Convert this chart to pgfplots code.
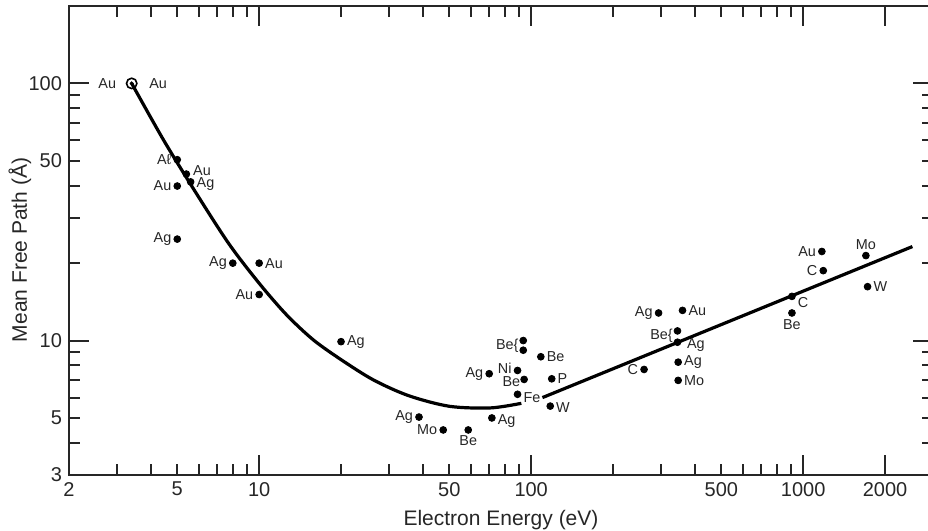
\documentclass[border=0pt]{standalone}
\usepackage{pgfplots}
\pgfplotsset{compat=1.18}
\usepackage{pgfplotstable}
\usepackage{fontspec}
\setmainfont{Liberation Sans}

% measured points: energy (eV), mean free path (A)
\pgfplotstableread{
x y
5.0 50.5
5.4 44.4
5.6 41.4
5.0 39.9
5.0 24.8
8.0 20.0
10.0 20.0
10.0 15.1
20 9.9
38.7 5.04
47.5 4.49
58.7 4.49
71.7 5.0
70.1 7.43
93.5 10.0
93.5 9.17
89.1 7.65
94.2 7.06
89.1 6.18
108.5 8.65
119 7.1
117.5 5.56
260 7.72
294 12.8
360 13.1
345 10.9
345 9.85
347 8.24
347 7.0
1171 22.2
1185 18.7
909 14.85
909 12.8
1700 21.4
1724 16.2
}\mfpdata

\tikzset{lbl/.style={font=\fontsize{7.2}{8}\selectfont, inner sep=0.6pt, text=black!85},
  L/.style={lbl, anchor=east, xshift=-2.2pt},
  R/.style={lbl, anchor=west, xshift=2.2pt},
  B/.style={lbl, anchor=north, yshift=-2.2pt},
  T/.style={lbl, anchor=south, yshift=2pt}}

\begin{document}
\begin{tikzpicture}
\useasboundingbox (0,0) rectangle (464pt,265.5pt);
\begin{axis}[
  at={(34.5pt,28pt)}, anchor=south west,
  scale only axis, width=432pt, height=234.5pt,
  xmode=log, ymode=log,
  xmin=2, xmax=3000, ymin=3, ymax=200,
  axis line style={line width=1pt, black!85},
  tick style={line width=1pt, black!85},
  tick align=inside, xtick pos=both, ytick pos=both,
  major tick length=5.5pt, minor tick length=5.5pt,
  xtick={2,5,10,50,100,500,1000,2000},
  xticklabels={2,5,10,50,100,500,1000,2000},
  minor xtick={3,4,6,7,8,9,20,30,40,60,70,80,90,200,300,400,600,700,800,900},
  extra x ticks={10,100,1000,2000},
  extra x tick labels={,,,},
  extra x tick style={major tick length=10pt},
  ytick={3,5,10,50,100},
  yticklabels={3,5,10,50,100},
  minor ytick={4,6,7,8,9,20,30,40,60,70,80,90},
  extra y ticks={10,100},
  extra y tick labels={,},
  extra y tick style={major tick length=10pt},
  ticklabel style={font=\fontsize{10}{12}\selectfont, text=black!85},
  label style={font=\fontsize{10.5}{12}\selectfont, text=black!85},
  xlabel={Electron Energy (eV)},
  ylabel={Mean Free Path (Å)},
  ylabel style={at={(axis description cs:-0.0567,0.48)}, anchor=center, rotate=0},
]
\addplot[line width=1.6pt, black, smooth, no marks] coordinates {
(3.4,100) (4.47,59.8) (5.89,37.2) (7.76,23.7) (10,16.7) (12.6,12.6)
(15.8,10.07) (20,8.43) (26.3,7.03) (35.5,6.10) (50.1,5.55)
(70.8,5.47) (92,5.70)
};
\addplot[line width=1.6pt, black, no marks] coordinates {
(110,6.0) (2520,23.2)
};
\addplot[only marks, mark=*, mark size=1.7pt, black] table[x=x, y=y] {\mfpdata};
\addplot[only marks, mark=o, mark size=2.6pt, mark options={line width=0.8pt}, black]
  coordinates {(3.4,100)};
\addplot[only marks, mark=*, mark size=0.8pt, black] coordinates {(3.4,100)};

\node[lbl, anchor=east, xshift=-7pt] at (axis cs:3.4,100) {Au};
\node[lbl, anchor=west, xshift=8pt] at (axis cs:3.4,100) {Au};
\node[L] at (axis cs:5.0,50.5) {Aℓ};
\node[R, xshift=0.4pt, yshift=1.5pt] at (axis cs:5.4,44.4) {Au};
\node[R, yshift=-1pt] at (axis cs:5.6,41.4) {Ag};
\node[L] at (axis cs:5.0,39.9) {Au};
\node[L] at (axis cs:5.0,24.8) {Ag};
\node[L] at (axis cs:8.0,20.0) {Ag};
\node[R] at (axis cs:10.0,20.0) {Au};
\node[L] at (axis cs:10.0,15.1) {Au};
\node[R] at (axis cs:20,9.9) {Ag};
\node[L] at (axis cs:38.7,5.04) {Ag};
\node[L] at (axis cs:47.5,4.49) {Mo};
\node[B] at (axis cs:58.7,4.49) {Be};
\node[R, yshift=-1.5pt] at (axis cs:71.7,5.0) {Ag};
\node[L] at (axis cs:70.1,7.43) {Ag};
\node[L, xshift=0.6pt, yshift=-2.5pt] at (axis cs:93.5,10.0) {Be\{};
\node[L, yshift=1pt] at (axis cs:89.1,7.65) {Ni};
\node[L, xshift=1pt, yshift=-1pt] at (axis cs:94.2,7.06) {Be};
\node[R, yshift=-1.5pt] at (axis cs:89.1,6.18) {Fe};
\node[R] at (axis cs:108.5,8.65) {Be};
\node[R] at (axis cs:119,7.1) {P};
\node[R, yshift=-0.5pt] at (axis cs:117.5,5.56) {W};
\node[L] at (axis cs:260,7.72) {C};
\node[L] at (axis cs:294,12.8) {Ag};
\node[R] at (axis cs:360,13.1) {Au};
\node[L, xshift=0.6pt, yshift=-2.5pt] at (axis cs:345,10.9) {Be\{};
\node[R, xshift=1.8pt, yshift=-1.5pt] at (axis cs:345,9.85) {Ag};
\node[R] at (axis cs:347,8.24) {Ag};
\node[R] at (axis cs:347,7.0) {Mo};
\node[L] at (axis cs:1171,22.2) {Au};
\node[L] at (axis cs:1185,18.7) {C};
\node[R, yshift=-3pt] at (axis cs:909,14.85) {C};
\node[B, yshift=-0.3pt] at (axis cs:909,12.8) {Be};
\node[T] at (axis cs:1700,21.4) {Mo};
\node[R] at (axis cs:1724,16.2) {W};
\end{axis}
\end{tikzpicture}
\end{document}
